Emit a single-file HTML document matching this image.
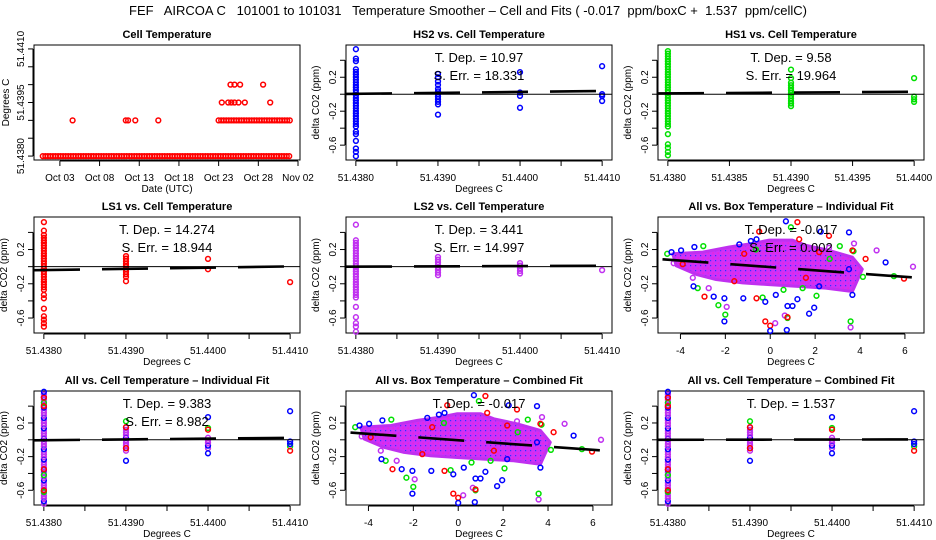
<!DOCTYPE html>
<html><head><meta charset="utf-8"><style>
body{margin:0;background:#fff}
svg{display:block;font-family:"Liberation Sans",sans-serif}
</style></head><body>
<svg id="c" width="936" height="540" viewBox="0 0 936 540" xmlns="http://www.w3.org/2000/svg">
<defs>
<pattern id="core" width="5" height="5" patternUnits="userSpaceOnUse">
<rect width="5" height="5" fill="#d030f8"/>
<rect x="0" y="0" width="1.2" height="1.2" fill="#3030ff"/>
<rect x="2.5" y="2.5" width="1.2" height="1.2" fill="#ff20c0"/>
</pattern>
</defs>
<rect width="936" height="540" fill="#fff"/>
<text x="468" y="15" font-size="13" text-anchor="middle" xml:space="preserve">FEF   AIRCOA C   101001 to 101031   Temperature Smoother – Cell and Fits ( -0.017  ppm/boxC +  1.537  ppm/cellC)</text>
<g font-size="11" font-weight="bold" text-anchor="middle">
<text x="167" y="38">Cell Temperature</text>
<text x="479" y="38">HS2 vs. Cell Temperature</text>
<text x="791" y="38">HS1 vs. Cell Temperature</text>
<text x="167" y="210">LS1 vs. Cell Temperature</text>
<text x="479" y="210">LS2 vs. Cell Temperature</text>
<text x="791" y="210">All vs. Box Temperature – Individual Fit</text>
<text x="167" y="384">All vs. Cell Temperature – Individual Fit</text>
<text x="479" y="384">All vs. Box Temperature – Combined Fit</text>
<text x="791" y="384">All vs. Cell Temperature – Combined Fit</text>
</g>
<g id="plots"></g>
<g id="annot" font-size="13" text-anchor="middle" xml:space="preserve">
<text x="479" y="62">T. Dep. =  10.97</text>
<text x="479" y="80">S. Err. =  18.331</text>
<text x="791" y="62">T. Dep. =  9.58</text>
<text x="791" y="80">S. Err. =  19.964</text>
<text x="167" y="234">T. Dep. =  14.274</text>
<text x="167" y="252">S. Err. =  18.944</text>
<text x="479" y="234">T. Dep. =  3.441</text>
<text x="479" y="252">S. Err. =  14.997</text>
<text x="791" y="234">T. Dep. = -0.017</text>
<text x="791" y="252">S. Err. =  0.002</text>
<text x="167" y="408">T. Dep. =  9.383</text>
<text x="167" y="426">S. Err. =  8.982</text>
<text x="479" y="408">T. Dep. = -0.017</text>
<text x="791" y="408">T. Dep. =  1.537</text>
</g>
</svg>
<script>
// ---- Panel 1: cell temperature time series (day of October, temperature) ----
const p1Runs = [[0.85, 32.2, 51.4380], [23.0, 32.2, 51.4390]];
const p1Points = [[4.6,51.4390],[11.3,51.4390],[11.6,51.4390],[12.5,51.4390],[15.4,51.4390],
  [23.4,51.4395],[24.2,51.4395],[24.6,51.4395],[25.0,51.4395],[25.5,51.4395],[26.3,51.4395],[29.5,51.4395],
  [24.5,51.4400],[25.0,51.4400],[25.7,51.4400],[28.6,51.4400]];
const p1TickDays = [3, 8, 13, 18, 23, 28, 33];
const p1TickLabels = ["Oct 03","Oct 08","Oct 13","Oct 18","Oct 23","Oct 28","Nov 02"];
const p1YTicks = [51.4380, 51.4385, 51.4390, 51.4395, 51.4400, 51.4405, 51.4410];
const p1YLabels = ["51.4380","","","51.4395","","","51.4410"];

// ---- Cell-temperature scatter data: dense ranges [temp, ymin, ymax] and single points [temp, y] ----
const hs2Ranges = [[51.4380,-0.38,0.32],[51.4390,-0.12,0.07]];
const hs2Points = [[51.438,0.53],[51.438,0.42],[51.438,0.39],[51.438,-0.44],[51.438,-0.47],[51.438,-0.55],[51.438,-0.64],[51.438,-0.68],[51.438,-0.73],
  [51.439,0.24],[51.439,0.2],[51.439,0.15],[51.439,0.11],[51.439,-0.24],[51.440,0.26],[51.440,0.02],[51.440,-0.02],[51.440,-0.16],
  [51.441,0.33],[51.441,0],[51.441,-0.02],[51.441,-0.08]];
const hs1Ranges = [[51.4380,-0.38,0.52],[51.4390,-0.14,0.15],[51.4400,-0.09,-0.02]];
const hs1Points = [[51.438,-0.47],[51.438,-0.59],[51.438,-0.63],[51.438,-0.68],[51.438,-0.72],[51.439,0.29],[51.439,0.19],[51.440,0.19]];
const ls1Ranges = [[51.4380,-0.27,0.34],[51.4390,-0.12,0.14]];
const ls1Points = [[51.438,0.52],[51.438,0.42],[51.438,0.37],[51.438,-0.33],[51.438,-0.37],[51.438,-0.49],[51.438,-0.58],[51.438,-0.62],[51.438,-0.66],[51.438,-0.70],
  [51.439,-0.17],[51.440,0.09],[51.440,-0.03],[51.441,-0.18]];
const ls2Ranges = [[51.4380,-0.36,0.33],[51.4390,-0.1,0.13],[51.4400,-0.08,0.06]];
const ls2Points = [[51.438,0.49],[51.438,-0.47],[51.438,-0.59],[51.438,-0.66],[51.438,-0.7],[51.438,-0.76],[51.441,-0.04]];
const allRanges = [[51.4380,-0.76,0.55],[51.4390,-0.13,0.17],[51.4400,-0.1,0.05]];
const allBlue = [[51.438,0.57],[51.439,-0.25],[51.440,0.27],[51.440,-0.16],[51.441,0.34],[51.441,-0.02],[51.441,-0.05]];
const allGreen = [[51.438,0.44],[51.438,-0.42],[51.438,-0.62],[51.439,0.22],[51.440,0.14],[51.441,-0.08]];
const allRed = [[51.438,0.5],[51.438,0.4],[51.438,-0.35],[51.438,-0.6],[51.439,0.15],[51.439,-0.1],[51.440,0.12],[51.441,-0.13]];
const cellXTicks = [51.4380,51.4385,51.4390,51.4395,51.4400,51.4405,51.4410];
const cellXLabels = ["51.4380","","51.4390","","51.4400","","51.4410"];
const hs1XTicks = [51.4380,51.4385,51.4390,51.4395,51.4400];
const hs1XLabels = ["51.4380","51.4385","51.4390","51.4395","51.4400"];
const dYTicks = [-0.6,-0.4,-0.2,0,0.2,0.4];
const dYLabels = ["-0.6","","-0.2","","0.2",""];

// fits: intercept at 51.4380 and slope (ppm/C)
const fitSlopes = [10.97, 9.58, 14.274, 3.441, 9.383, 1.537];
const fitIntercepts = [0.005, 0.01, -0.04, 0.0, -0.005, 0.0];

// ---- Box-temperature scatter: outliers per series [boxC, ppm] ----
const boxBlue = [[0.70,0.53],[-0.61,0.32],[2.25,0.41],[3.51,0.40],[5.14,0.05],[-3.42,-0.23],[-2.52,-0.35],[-2.04,-0.37],[-1.2,-0.37],[-0.22,-0.41],[0.25,-0.33],[1.21,-0.38],[0.77,-0.46],[0.99,-0.46],[1.96,-0.48],[1.73,-0.55],[0.74,-0.74],[-2.04,-0.64],[0,-0.75],[3.66,-0.33],[3.51,-0.03],[-3.97,0.19],[-3.38,0.23],[-1.38,0.26],[-0.86,0.30],[2.18,-0.23],[-4.4,0.17]];
const boxGreen = [[-4.59,0.15],[-2.98,0.24],[0.92,0.46],[-0.64,0.20],[-2.31,-0.45],[-2.0,-0.56],[-0.34,-0.36],[0.59,-0.27],[1.44,-0.25],[2.06,-0.34],[2.65,0.09],[3.10,0.24],[3.71,0.18],[4.13,-0.12],[5.51,-0.11],[3.58,-0.64],[0.77,-0.6],[-3.23,-0.25]];
const boxRed = [[1.21,0.52],[-0.49,0.41],[1.29,0.32],[2.62,0.36],[3.66,0.19],[4.25,0.09],[5.96,-0.14],[-2.93,-0.35],[-0.61,-0.37],[-0.22,-0.64],[0,-0.69],[0.77,-0.59],[-1.6,-0.17],[1.59,-0.13],[-3.9,0.03],[2.18,0.17],[-1.16,0.15]];
const boxPurple = [[4.74,0.19],[6.36,0],[-2.74,-0.25],[-1.94,-0.47],[0.22,-0.66],[0.65,-0.57],[3.58,-0.71],[3.73,0.27],[2.62,0.22],[-4.3,0.04],[-3.45,-0.13]];
const boxCore = [[-4.34,0.15],[-3.0,0.17],[-1.82,0.23],[-0.79,0.27],[-0.04,0.31],[0.99,0.31],[1.59,0.25],[2.62,0.19],[3.66,0.11],[4.1,-0.03],[3.66,-0.29],[2.47,-0.25],[1.14,-0.23],[-0.04,-0.21],[-1.23,-0.19],[-2.41,-0.15],[-3.3,-0.09],[-4.19,0.01]];
const boxFit = [-0.005, -0.019]; // intercept, slope
const boxXTicks = [-4,-2,0,2,4,6];
const boxXLabels = ["-4","-2","0","2","4","6"];

const NS = 'http://www.w3.org/2000/svg';
const root = document.getElementById('plots');
function mk(tag, a, parent){ const e = document.createElementNS(NS, tag); for (const k in a) e.setAttribute(k, a[k]); (parent||root).appendChild(e); return e; }
function lin(d0,d1,p0,p1){ return v => p0 + (v-d0)*(p1-p0)/(d1-d0); }

const colL = [34, 346, 658], colR = [300, 612, 924];
const rowT = [45, 217, 391], rowB = [160, 333, 505];
const COL = {blue:'#0000ff', green:'#00e000', red:'#ff0000', purple:'#c030f0'};

function panel(c, r, xd, yd){
  return {l:colL[c], r:colR[c], t:rowT[r], b:rowB[r], x:lin(xd[0],xd[1],colL[c],colR[c]), y:lin(yd[0],yd[1],rowB[r],rowT[r])};
}
function pt(P, x, y, color, g){
  const c = mk('circle', {cx:P.x(x).toFixed(1), cy:P.y(y).toFixed(1), r:2.4, fill:'none', stroke:color, 'stroke-width':1.5}, g);
  
  
}
function axes(P, name, xt, xl, yt, yl, xtitle, ytitle, ylabOff){
  const g = mk('g', {});
  
  
  const box = mk('rect', {x:P.l, y:P.t, width:P.r-P.l, height:P.b-P.t, fill:'none', stroke:'#000', 'stroke-width':1}, g);
  
  
  const xa = mk('line', {x1:P.x(xt[0]), x2:P.x(xt[xt.length-1]), y1:P.b+1, y2:P.b+1, stroke:'#000'}, g);
  
  
  xt.forEach((v,i) => {
    const px = P.x(v);
    mk('line', {x1:px, x2:px, y1:P.b+1, y2:P.b+6, stroke:'#000'}, g);
    if (xl[i]) {
      const t = mk('text', {x:px, y:P.b+21, 'font-size':10, 'text-anchor':'middle'}, g);
      t.textContent = xl[i];
      
      
    }
  });
  const ya = mk('line', {x1:P.l-1, x2:P.l-1, y1:P.y(yt[0]), y2:P.y(yt[yt.length-1]), stroke:'#000'}, g);
  
  
  yt.forEach((v,i) => {
    const py = P.y(v);
    mk('line', {x1:P.l-6, x2:P.l-1, y1:py, y2:py, stroke:'#000'}, g);
    if (yl[i]) {
      const t = mk('text', {x:P.l-10, y:py, 'font-size':10, 'text-anchor':'middle', transform:`rotate(-90 ${P.l-10} ${py})`}, g);
      t.textContent = yl[i];
      
      
    }
  });
  const xt2 = mk('text', {x:(P.l+P.r)/2, y:P.b+32, 'font-size':10, 'text-anchor':'middle'}, g);
  xt2.textContent = xtitle;
  
  
  const yx = P.l - ylabOff, yy = (P.t+P.b)/2;
  const yt2 = mk('text', {x:yx, y:yy, 'font-size':10, 'text-anchor':'middle', transform:`rotate(-90 ${yx} ${yy})`}, g);
  yt2.textContent = ytitle;
  
  
}
function zeroLine(P){
  const l = mk('line', {x1:P.l, x2:P.r, y1:P.y(0), y2:P.y(0), stroke:'#000', 'stroke-width':1});
  
  
}
function fitLine(P, x0, x1, f){
  const l = mk('line', {x1:P.x(x0), x2:P.x(x1), y1:P.y(f(x0)), y2:P.y(f(x1)), stroke:'#000', 'stroke-width':2.6, 'stroke-dasharray':'46 22'});
  
  
}
function ranges(P, rs, colors){
  const step = 2.6 / (P.y(0) - P.y(1));
  rs.forEach(rg => { let k = 0; for (let y = rg[1]; y <= rg[2] + 1e-9; y += step) { pt(P, rg[0], y, colors[k % colors.length]); k++; } });
}

const cellXD = [51.438-0.00012, 51.441+0.00012];
const hs1XD = [51.438-0.00008, 51.440+0.00008];
const dYD = [-0.775, 0.58];
const boxXD = [-5.0, 6.85];

// Panel 1
const P1 = panel(0, 0, [-0.26, 33.25], [51.43789, 51.44111]);
axes(P1, 'cell-temperature', p1TickDays, p1TickLabels, p1YTicks, p1YLabels, 'Date (UTC)', 'Degrees C', 25);
p1Runs.forEach(rn => { for (let d = rn[0]; d <= rn[1]; d += 0.32) pt(P1, d, rn[2], COL.red); });
p1Points.forEach(p => pt(P1, p[0], p[1], COL.red));

// Cell-temp panels
function cellPanel(c, r, name, xd, xt, xl, rs, pts, color, fi){
  const P = panel(c, r, xd, dYD);
  axes(P, name, xt, xl, dYTicks, dYLabels, 'Degrees C', 'delta CO2 (ppm)', 27);
  ranges(P, rs, [color]);
  pts.forEach(p => pt(P, p[0], p[1], color));
  zeroLine(P);
  fitLine(P, xd[0], xd[1], x => fitIntercepts[fi] + fitSlopes[fi]*(x-51.438));
  return P;
}
cellPanel(1, 0, 'hs2', cellXD, cellXTicks, cellXLabels, hs2Ranges, hs2Points, COL.blue, 0);
cellPanel(2, 0, 'hs1', hs1XD, hs1XTicks, hs1XLabels, hs1Ranges, hs1Points, COL.green, 1);
cellPanel(0, 1, 'ls1', cellXD, cellXTicks, cellXLabels, ls1Ranges, ls1Points, COL.red, 2);
cellPanel(1, 1, 'ls2', cellXD, cellXTicks, cellXLabels, ls2Ranges, ls2Points, COL.purple, 3);

function allCellPanel(c, r, name, fi){
  const P = panel(c, r, cellXD, dYD);
  axes(P, name, cellXTicks, cellXLabels, dYTicks, dYLabels, 'Degrees C', 'delta CO2 (ppm)', 27);
  ranges(P, allRanges, [COL.purple, COL.blue, COL.purple, COL.purple]);
  allGreen.forEach(p => pt(P, p[0], p[1], COL.green));
  allRed.forEach(p => pt(P, p[0], p[1], COL.red));
  allBlue.forEach(p => pt(P, p[0], p[1], COL.blue));
  zeroLine(P);
  fitLine(P, cellXD[0], cellXD[1], x => fitIntercepts[fi] + fitSlopes[fi]*(x-51.438));
}
allCellPanel(0, 2, 'all-cell-individual', 4);
allCellPanel(2, 2, 'all-cell-combined', 5);

function boxPanel(c, r, name){
  const P = panel(c, r, boxXD, dYD);
  axes(P, name, boxXTicks, boxXLabels, dYTicks, dYLabels, 'Degrees C', 'delta CO2 (ppm)', 27);
  const poly = mk('polygon', {points: boxCore.map(p => P.x(p[0]).toFixed(1)+','+P.y(p[1]).toFixed(1)).join(' '), fill:'url(#core)', stroke:'#c030f0', 'stroke-width':3, 'stroke-linejoin':'round'});
  
  
  boxPurple.forEach(p => pt(P, p[0], p[1], COL.purple));
  boxGreen.forEach(p => pt(P, p[0], p[1], COL.green));
  boxRed.forEach(p => pt(P, p[0], p[1], COL.red));
  boxBlue.forEach(p => pt(P, p[0], p[1], COL.blue));
  fitLine(P, -4.8, boxXD[1], x => boxFit[0] + boxFit[1]*x);
}
boxPanel(2, 1, 'all-box-individual');
boxPanel(1, 2, 'all-box-combined');

// bring annotations to front
document.getElementById('c').appendChild(document.getElementById('annot'));
</script>
</body></html>
